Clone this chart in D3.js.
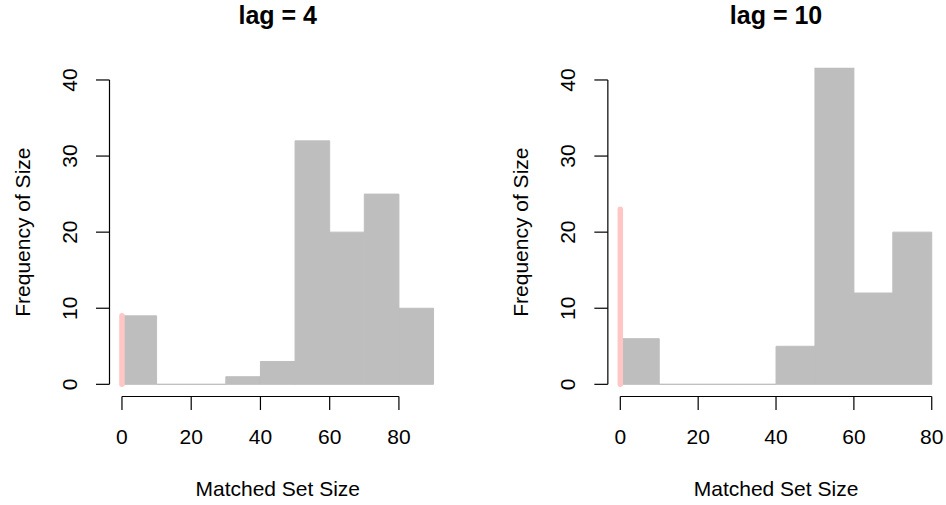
<!DOCTYPE html>
<html>
<head>
<meta charset="utf-8">
<script src="https://cdn.jsdelivr.net/npm/d3@7"></script>
<style>
  html, body { margin: 0; padding: 0; background: #fff; }
  svg { display: block; font-family: "Liberation Sans", Arial, Helvetica, sans-serif; }
</style>
</head>
<body>
<svg id="chart" width="946" height="505"></svg>
<script>
// ---- data ----
const titles = ["lag = 4", "lag = 10"];
const binEdgesLag4 = [0, 10, 20, 30, 40, 50, 60, 70, 80, 90];
const countsLag4 = [9, 0, 0, 1, 3, 32, 20, 25, 10];
const binEdgesLag10 = [0, 10, 20, 30, 40, 50, 60, 70, 80];
const countsLag10 = [6, 0, 0, 0, 5, 42, 12, 20];
const zeroSizeLag4 = 9;
const zeroSizeLag10 = 23;
const xTicksLag4 = [0, 20, 40, 60, 80];
const xTicksLag10 = [0, 20, 40, 60, 80];
const yTicks = [0, 10, 20, 30, 40];
const xLabel = "Matched Set Size";
const yLabel = "Frequency of Size";

// ---- layout ----
const svg = d3.select("#chart");
const panels = [
  { title: titles[0], edges: binEdgesLag4, counts: countsLag4, zero: zeroSizeLag4, xTicks: xTicksLag4,
    xlim: [0, 90], left: 109.5, right: 446 },
  { title: titles[1], edges: binEdgesLag10, counts: countsLag10, zero: zeroSizeLag10, xTicks: xTicksLag10,
    xlim: [0, 80], left: 607.85, right: 944.2 }
];
const ylim = [0, 40];
const plotTop = 67.8, plotBottom = 396.5;
const barColor = "#BEBEBE";
const pink = "#FFC6C6";
const axisW = 1.2;
const tickLen = 13.5;

panels.forEach((p, i) => {
  const xr = (p.xlim[1] - p.xlim[0]) * 0.04;
  const yr = (ylim[1] - ylim[0]) * 0.04;
  const x = d3.scaleLinear().domain([p.xlim[0] - xr, p.xlim[1] + xr]).range([p.left, p.right]);
  const y = d3.scaleLinear().domain([ylim[0] - yr, ylim[1] + yr]).range([plotBottom, plotTop]);
  const g = svg.append("g");

  const clipId = "clip" + i;
  svg.append("clipPath").attr("id", clipId).append("rect")
    .attr("x", p.left).attr("y", plotTop).attr("width", p.right - p.left).attr("height", plotBottom - plotTop);

  const bins = p.counts.map((c, k) => ({ x0: p.edges[k], x1: p.edges[k + 1], c }));
  g.append("g").attr("clip-path", `url(#${clipId})`)
    .selectAll("path").data(bins).join("path")
    .attr("d", d => {
      const x0 = x(d.x0), x1 = x(d.x1), y0 = y(0), y1 = y(d.c);
      return `M${x0},${y0}H${x1}V${y1}H${x0}Z`;
    })
    .attr("fill", barColor)
    .attr("stroke", barColor)
    .attr("stroke-width", 1);

  // pink line for size 0
  g.append("line")
    .attr("x1", x(0)).attr("x2", x(0))
    .attr("y1", y(0)).attr("y2", y(p.zero))
    .attr("stroke", pink).attr("stroke-width", 5.5).attr("stroke-linecap", "round");

  // y axis
  const ya = g.append("g").attr("stroke", "#000").attr("stroke-width", axisW);
  ya.append("line").attr("x1", p.left).attr("x2", p.left).attr("y1", y(yTicks[0])).attr("y2", y(yTicks[yTicks.length - 1]));
  ya.selectAll("line.t").data(yTicks).join("line").attr("class", "t")
    .attr("x1", p.left).attr("x2", p.left - tickLen).attr("y1", d => y(d)).attr("y2", d => y(d));
  g.selectAll("text.yt").data(yTicks).join("text").attr("class", "yt")
    .attr("transform", d => `translate(${p.left - 33},${y(d)}) rotate(-90)`)
    .attr("text-anchor", "middle").attr("font-size", 21).attr("fill", "#000")
    .text(d => d);

  // x axis
  const xa = g.append("g").attr("stroke", "#000").attr("stroke-width", axisW);
  xa.append("line").attr("x1", x(p.xTicks[0])).attr("x2", x(p.xTicks[p.xTicks.length - 1])).attr("y1", plotBottom).attr("y2", plotBottom);
  xa.selectAll("line.t").data(p.xTicks).join("line").attr("class", "t")
    .attr("x1", d => x(d)).attr("x2", d => x(d)).attr("y1", plotBottom).attr("y2", plotBottom + tickLen);
  g.selectAll("text.xt").data(p.xTicks).join("text").attr("class", "xt")
    .attr("x", d => x(d)).attr("y", 444)
    .attr("text-anchor", "middle").attr("font-size", 21).attr("fill", "#000")
    .text(d => d);

  const cx = (p.left + p.right) / 2;
  g.append("text").attr("x", cx).attr("y", 496).attr("text-anchor", "middle")
    .attr("font-size", 21).attr("fill", "#000").text(xLabel);
  g.append("text").attr("transform", `translate(${p.left - 80},${(plotTop + plotBottom) / 2}) rotate(-90)`)
    .attr("text-anchor", "middle").attr("font-size", 21).attr("fill", "#000").text(yLabel);
  g.append("text").attr("x", cx).attr("y", 24).attr("text-anchor", "middle")
    .attr("font-size", 25).attr("font-weight", "bold").attr("fill", "#000").text(p.title);
});
</script>
</body>
</html>
